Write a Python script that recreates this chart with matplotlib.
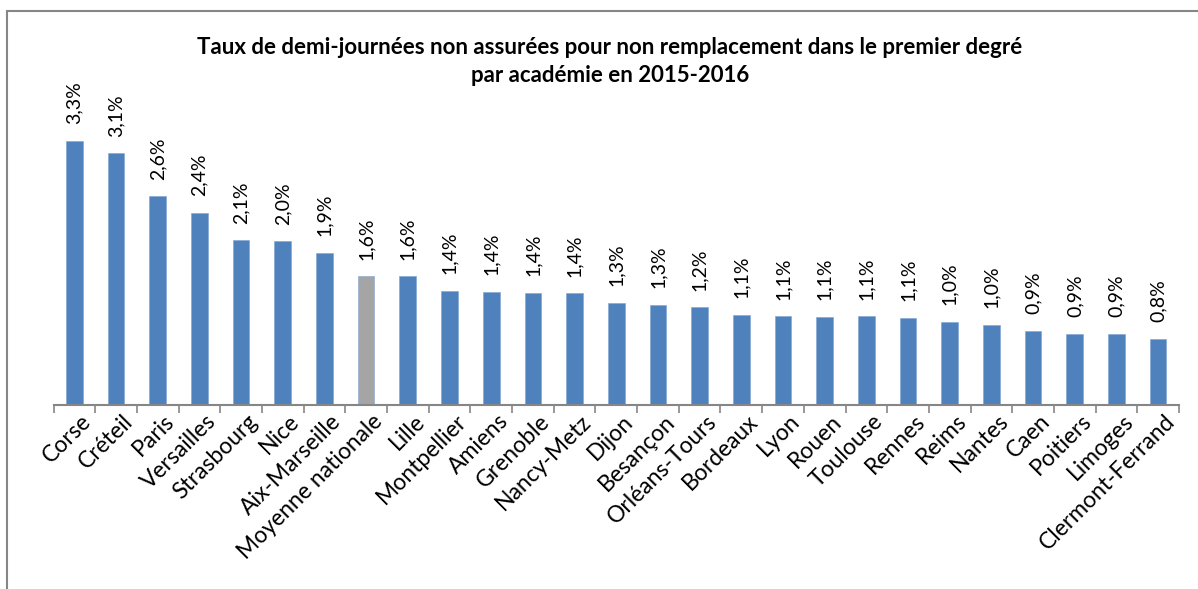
"""
Taux de demi-journées non assurées pour non remplacement (premier degré),
par académie, 2015-2016.
"""
import matplotlib
matplotlib.use("Agg")
import matplotlib.pyplot as plt
from matplotlib.patches import Rectangle
from matplotlib.transforms import ScaledTranslation

ACADEMIES = ["Corse", "Créteil", "Paris", "Versailles", "Strasbourg", "Nice",
             "Aix-Marseille", "Moyenne nationale", "Lille", "Montpellier",
             "Amiens", "Grenoble", "Nancy-Metz", "Dijon", "Besançon",
             "Orléans-Tours", "Bordeaux", "Lyon", "Rouen", "Toulouse", "Rennes",
             "Reims", "Nantes", "Caen", "Poitiers", "Limoges", "Clermont-Ferrand"]
# bar heights (in %)
TAUX = [3.30, 3.146, 2.61, 2.40, 2.06, 2.046, 1.90, 1.61, 1.61, 1.425,
        1.417, 1.40, 1.396, 1.279, 1.25, 1.22, 1.125, 1.11, 1.105, 1.108,
        1.09, 1.04, 1.00, 0.925, 0.89, 0.89, 0.825]
# labels as printed on the chart
LABELS = ["3,3%", "3,1%", "2,6%", "2,4%", "2,1%", "2,0%", "1,9%", "1,6%", "1,6%",
          "1,4%", "1,4%", "1,4%", "1,4%", "1,3%", "1,3%", "1,2%", "1,1%", "1,1%",
          "1,1%", "1,1%", "1,1%", "1,0%", "1,0%", "0,9%", "0,9%", "0,9%", "0,8%"]
HIGHLIGHT = "Moyenne nationale"

BLUE = "#4F81BD"
GREY = "#A5A5A5"
AXIS_GREY = "#868686"
FONT = ["Lato", "DejaVu Sans"]

W, H = 1198, 589


def main():
    plt.rcParams["font.family"] = FONT
    fig = plt.figure(figsize=(W / 100, H / 100), dpi=100)

    # outer frame (only left and top edges are visible in the source)
    fig.patches.append(Rectangle((7 / W, -0.1), 1.2, 1 - 11.5 / H + 0.1,
                                 transform=fig.transFigure, fill=False,
                                 edgecolor=AXIS_GREY, linewidth=1.5))

    left, right, bottom = 53.5 / W, 1179 / W, 1 - 405 / H
    ymax = 4.0
    ax = fig.add_axes([left, bottom, right - left, ymax * 80 / H])

    x = list(range(len(ACADEMIES)))
    colors = [GREY if a == HIGHLIGHT else BLUE for a in ACADEMIES]
    ax.bar(x, TAUX, width=0.4, color=colors, edgecolor="#7FA3D1",
           linewidth=0.4)
    for xi, v, lab in zip(x, TAUX, LABELS):
        ax.annotate(lab, (xi, v), xytext=(0, 12), textcoords="offset points",
                    rotation=90, ha="center", va="bottom", fontsize=14)

    ax.set_xlim(-0.5, len(ACADEMIES) - 0.5)
    ax.set_ylim(0, ymax)
    ax.set_yticks([])
    for side in ("top", "right", "left"):
        ax.spines[side].set_visible(False)
    ax.spines["bottom"].set_color(AXIS_GREY)
    ax.spines["bottom"].set_linewidth(1.5)

    ax.set_xticks([i - 0.5 for i in range(len(ACADEMIES) + 1)], minor=True)
    ax.tick_params(axis="x", which="minor", length=6, width=1.2,
                   color=AXIS_GREY, direction="out")
    ax.set_xticks(x)
    ax.set_xticklabels(ACADEMIES, rotation=45, ha="right",
                       rotation_mode="anchor", fontsize=16.5)
    ax.tick_params(axis="x", which="major", length=0, pad=4)
    # nudge labels slightly right, as in the source
    shift = ScaledTranslation(6 / 100, 0, fig.dpi_scale_trans)
    for lbl in ax.get_xticklabels():
        lbl.set_transform(lbl.get_transform() + shift)

    fig.text(610 / W, 1 - 47 / H,
             "Taux de demi-journées non assurées pour non remplacement dans le premier degré",
             ha="center", va="center", fontsize=16, fontweight="bold")
    fig.text(610 / W, 1 - 75 / H, "par académie en 2015-2016",
             ha="center", va="center", fontsize=16, fontweight="bold")

    fig.savefig("out.png", dpi=100)
    plt.close(fig)


if __name__ == "__main__":
    main()
